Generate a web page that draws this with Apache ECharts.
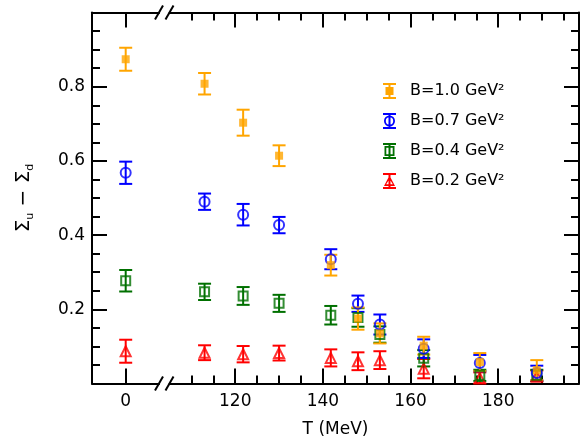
<!DOCTYPE html>
<html>
<head>
<meta charset="utf-8">
<script src="https://cdn.jsdelivr.net/npm/echarts@6/dist/echarts.min.js"></script>
<style>
  html, body { margin: 0; padding: 0; background: #fff; }
  #main { width: 580px; height: 443px; }
</style>
</head>
<body>
<div id="main"></div>
<script>
// temperatures (MeV); T=0 sits left of the axis break
var temps = [0, 113, 121.8, 130, 141.8, 148, 153, 163, 175.8, 188.8];

// sigma_u - sigma_d and errors, one pair per field strength
var b10 = [0.874, 0.808, 0.703, 0.614, 0.319, 0.175, 0.135, 0.102, 0.058, 0.036];
var b10Err = [0.031, 0.029, 0.035, 0.028, 0.028, 0.030, 0.027, 0.024, 0.024, 0.027];
var b07 = [0.568, 0.490, 0.455, 0.427, 0.335, 0.215, 0.159, 0.094, 0.055, 0.028];
var b07Err = [0.030, 0.022, 0.029, 0.022, 0.027, 0.022, 0.027, 0.025, 0.022, 0.020];
var b04 = [0.277, 0.247, 0.236, 0.216, 0.184, 0.178, 0.132, 0.068, 0.022, 0.022];
var b04Err = [0.029, 0.022, 0.024, 0.023, 0.025, 0.025, 0.022, 0.022, 0.015, 0.015];
var b02 = [0.087, 0.083, 0.079, 0.082, 0.069, 0.060, 0.063, 0.040, 0.015, 0.020];
var b02Err = [0.031, 0.020, 0.022, 0.020, 0.023, 0.024, 0.024, 0.026, 0.015, 0.015];

var names = ['B=1.0 GeV²', 'B=0.7 GeV²', 'B=0.4 GeV²', 'B=0.2 GeV²'];
var colors = ['#ffa500', '#0000ff', '#007000', '#ff0000'];

var xMajorLeft = [0];
var xMajorRight = [120, 140, 160, 180];
var xMinorRight = [110, 115, 125, 130, 135, 145, 150, 155, 165, 170, 175, 185, 190, 195];

var FONT = 'DejaVu Sans';
var BLACK = '#000';

// legend glyphs: error bar + marker
var icons = [
    'path://M0,0H13V2H0Z M0,14H13V16H0Z M5.5,0H7.5V16H5.5Z M2.5,4H10.5V12H2.5Z',
    'path://M0,0H13V2H0Z M0,14H13V16H0Z M5.5,0H7.5V16H5.5Z M1,8A5.5,5.5 0 1,1 12,8A5.5,5.5 0 1,1 1,8Z M2.8,8A3.7,3.7 0 1,0 10.2,8A3.7,3.7 0 1,0 2.8,8Z',
    'path://M0,0H13V2H0Z M0,14H13V16H0Z M5.5,0H7.5V16H5.5Z M1.5,3H11.5V13H1.5Z M3.3,4.8V11.2H9.7V4.8Z',
    'path://M0,0H13V2H0Z M0,14H13V16H0Z M5.5,0H7.5V16H5.5Z M6.5,2.5L12,13H1Z M6.5,6L3.2,11.3H9.8Z'
];

var chart = echarts.init(document.getElementById('main'));

function errBars(params, api) {
    var x = api.value(0), y = api.value(1), e = api.value(2);
    var hi = api.coord([x, y + e]);
    var lo = api.coord([x, y - e]);
    var w = 6.5;
    var st = { stroke: api.visual('color'), lineWidth: 2 };
    return {
        type: 'group',
        children: [
            { type: 'line', shape: { x1: hi[0], y1: hi[1], x2: lo[0], y2: lo[1] }, style: st },
            { type: 'line', shape: { x1: hi[0] - w, y1: hi[1], x2: hi[0] + w, y2: hi[1] }, style: st },
            { type: 'line', shape: { x1: lo[0] - w, y1: lo[1], x2: lo[0] + w, y2: lo[1] }, style: st }
        ]
    };
}

function rows(vals, errs, leftSide) {
    var out = [];
    temps.forEach(function (t, i) {
        if ((t === 0) === leftSide) out.push([t, vals[i], errs[i]]);
    });
    return out;
}

var markers = [
    { symbol: 'rect', symbolSize: 8, itemStyle: { color: colors[0] } },
    { symbol: 'circle', symbolSize: 10, itemStyle: { color: 'rgba(0,0,0,0)', borderColor: colors[1], borderWidth: 2 } },
    { symbol: 'rect', symbolSize: 9, itemStyle: { color: 'rgba(0,0,0,0)', borderColor: colors[2], borderWidth: 2 } },
    { symbol: 'triangle', symbolSize: 10, itemStyle: { color: 'rgba(0,0,0,0)', borderColor: colors[3], borderWidth: 2 } }
];

var groups = [[b10, b10Err], [b07, b07Err], [b04, b04Err], [b02, b02Err]];

var series = [];
// draw B=0.2 first so that B=1.0 ends on top
[3, 2, 1, 0].forEach(function (k) {
    [true, false].forEach(function (leftSide) {
        var data = rows(groups[k][0], groups[k][1], leftSide);
        var xi = leftSide ? 0 : 2, yi = leftSide ? 0 : 1;
        series.push({
            name: names[k], type: 'custom', xAxisIndex: xi, yAxisIndex: yi,
            renderItem: errBars, data: data, clip: false, silent: true,
            itemStyle: { color: colors[k] }
        });
        series.push({
            name: names[k], type: 'scatter', xAxisIndex: xi, yAxisIndex: yi,
            data: data, symbol: markers[k].symbol, symbolSize: markers[k].symbolSize,
            itemStyle: markers[k].itemStyle, silent: true, clip: false
        });
    });
});

var axLine = { show: true, onZero: false, lineStyle: { color: BLACK, width: 2 } };
var lbl = { color: BLACK, fontSize: 17, fontFamily: FONT };

function xAxis(grid, pos, min, max, ticks, len, labels, lineOn) {
    return {
        type: 'value', gridIndex: grid, position: pos, min: min, max: max,
        axisLine: lineOn ? axLine : { show: false, onZero: false },
        axisTick: { show: true, inside: true, length: len, customValues: ticks, lineStyle: { color: BLACK, width: 2 } },
        axisLabel: labels ? Object.assign({ show: true, customValues: labels, margin: 10 }, lbl) : { show: false },
        splitLine: { show: false }
    };
}

var leftMin = -7.69, leftMax = 7.6;
var rightMin = 105, rightMax = 198.43;

var yTicks = {
    type: 'value', min: 0, max: 1, interval: 0.2,
    axisLine: axLine,
    axisTick: { show: true, inside: true, length: 15, lineStyle: { color: BLACK, width: 2 } },
    minorTick: { show: true, splitNumber: 4, length: 8, lineStyle: { color: BLACK, width: 2 } },
    splitLine: { show: false }
};

var option = {
    animation: false,
    backgroundColor: '#fff',
    textStyle: { fontFamily: FONT },
    grid: [
        { left: 92, top: 12.5, width: 67, height: 371 },
        { left: 169.5, top: 12.5, width: 409.5, height: 371 },
        { left: 169.5, top: 12.5, width: 409.5, height: 371 },
        { left: 92, top: 12.5, width: 487, height: 371 }
    ],
    xAxis: [
        xAxis(0, 'bottom', leftMin, leftMax, xMajorLeft, 15, xMajorLeft, true),
        xAxis(0, 'top', leftMin, leftMax, xMajorLeft, 15, null, true),
        xAxis(1, 'bottom', rightMin, rightMax, xMajorRight, 15, xMajorRight, true),
        xAxis(1, 'top', rightMin, rightMax, xMajorRight, 15, null, true),
        xAxis(2, 'bottom', rightMin, rightMax, xMinorRight, 8, null, false),
        xAxis(2, 'top', rightMin, rightMax, xMinorRight, 8, null, false),
        {
            type: 'value', gridIndex: 3, min: 0, max: 1,
            axisLine: { show: false }, axisTick: { show: false }, axisLabel: { show: false }, splitLine: { show: false },
            name: 'T (MeV)', nameLocation: 'middle', nameGap: 45,
            nameTextStyle: { color: BLACK, fontSize: 17, fontFamily: FONT }
        }
    ],
    yAxis: [
        Object.assign({}, yTicks, {
            gridIndex: 0, position: 'left',
            axisLabel: Object.assign({
                margin: 7,
                formatter: function (v) { return (v > 0.01 && v < 0.99) ? v.toFixed(1) : ''; }
            }, lbl),
            name: '{s|Σ}{sub|u}{s| − Σ}{sub|d}', nameLocation: 'middle', nameRotate: 90, nameGap: 56,
            nameTextStyle: {
                color: BLACK, fontFamily: FONT,
                rich: {
                    s: { fontSize: 20, color: BLACK, fontFamily: FONT, lineHeight: 24 },
                    sub: { fontSize: 11, color: BLACK, fontFamily: FONT, lineHeight: 12, verticalAlign: 'bottom' }
                }
            }
        }),
        Object.assign({}, yTicks, { gridIndex: 1, position: 'right', axisLabel: { show: false } }),
        { type: 'value', gridIndex: 2, min: 0, max: 1, show: false },
        { type: 'value', gridIndex: 3, min: 0, max: 1, show: false }
    ],
    legend: {
        orient: 'vertical', left: 378, top: 78,
        itemWidth: 13, itemHeight: 16, itemGap: 14,
        selectedMode: false,
        textStyle: { color: BLACK, fontSize: 16, fontFamily: FONT, padding: [0, 0, 0, 9] },
        data: names.map(function (n, i) {
            return { name: n, icon: icons[i], itemStyle: { color: colors[i], borderWidth: 0 } };
        })
    },
    graphic: [
        { type: 'line', shape: { x1: 155, y1: 19.5, x2: 163, y2: 5.5 }, style: { stroke: BLACK, lineWidth: 2 } },
        { type: 'line', shape: { x1: 165.5, y1: 19.5, x2: 173.5, y2: 5.5 }, style: { stroke: BLACK, lineWidth: 2 } },
        { type: 'line', shape: { x1: 155, y1: 390.5, x2: 163, y2: 376.5 }, style: { stroke: BLACK, lineWidth: 2 } },
        { type: 'line', shape: { x1: 165.5, y1: 390.5, x2: 173.5, y2: 376.5 }, style: { stroke: BLACK, lineWidth: 2 } }
    ],
    series: series
};

chart.setOption(option);
</script>
</body>
</html>
